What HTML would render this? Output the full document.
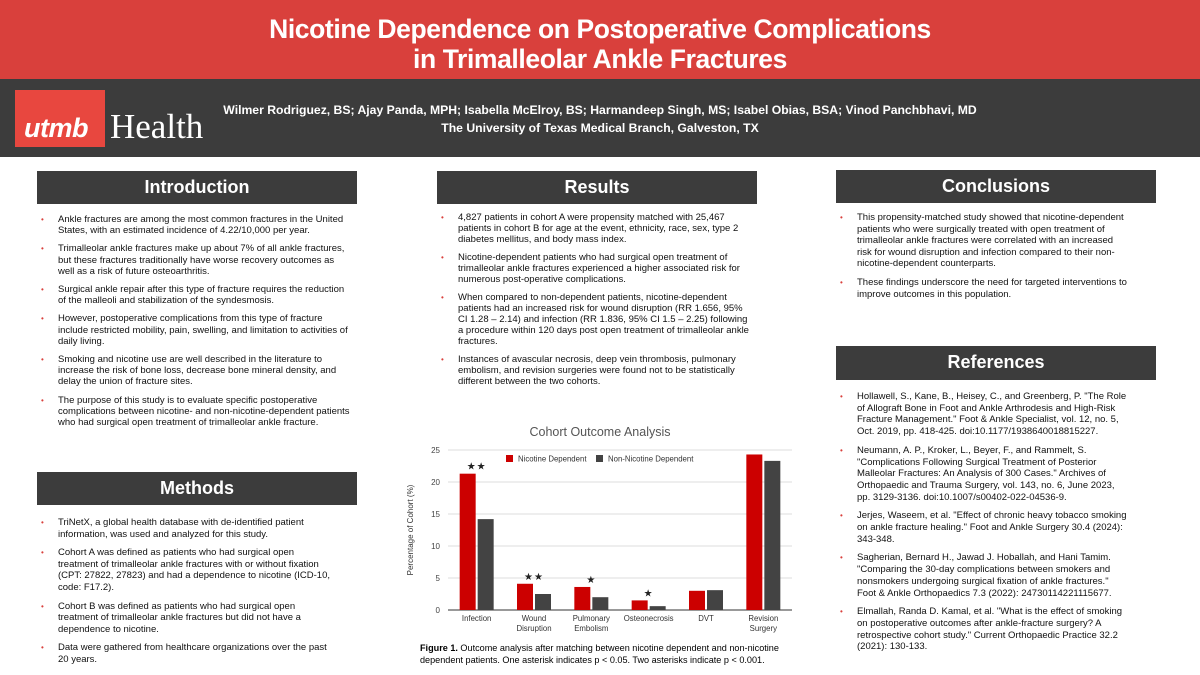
<!DOCTYPE html>
<html><head><meta charset="utf-8">
<style>
*{margin:0;padding:0;box-sizing:border-box}
body{width:1200px;height:675px;position:relative;background:#fff;font-family:"Liberation Sans",Arial,sans-serif;overflow:hidden}
#top{position:absolute;left:0;top:0;width:1200px;height:79px;background:#d9403c}
#top h1{color:#fff;font-size:26.5px;font-weight:bold;text-align:center;line-height:30px;padding-top:14px;letter-spacing:-0.4px}
#band{position:absolute;left:0;top:79px;width:1200px;height:78px;background:#3c3c3c}
#logo{position:absolute;left:15px;top:11px;width:90px;height:57px;background:#e8473f}
#logo b{position:absolute;left:9px;top:23px;color:#fff;font-style:italic;font-size:27px;font-weight:bold;letter-spacing:-0.5px}
#health{position:absolute;left:110px;top:28px;color:#fff;font-family:"Liberation Serif",serif;font-size:35px}
#auth{position:absolute;left:190px;top:22px;width:820px;text-align:center;color:#fff;font-size:12.2px;font-weight:bold;line-height:18px}
.hd{position:absolute;height:33px;width:320px;background:#3c3c3c;color:#fff;font-weight:bold;font-size:18px;text-align:center;line-height:33px}
ul{position:absolute;list-style:none;font-size:9.5px;line-height:11.2px;color:#111}
li{position:relative;padding-left:21px;margin-bottom:7px}
li:before{content:"•";position:absolute;left:4px;top:0;color:#d9403c;font-size:8px}
#chart{position:absolute;left:400px;top:420px}
#cap{position:absolute;left:420px;top:643px;font-size:9.1px;line-height:11.5px;color:#000}
</style></head><body>
<div id="top"><h1>Nicotine Dependence on Postoperative Complications<br>in Trimalleolar Ankle Fractures</h1></div>
<div id="band">
<div id="logo"><b>utmb</b></div>
<div id="health">Health</div>
<div id="auth">Wilmer Rodriguez, BS; Ajay Panda, MPH; Isabella McElroy, BS; Harmandeep Singh, MS; Isabel Obias, BSA; Vinod Panchbhavi, MD<br>The University of Texas Medical Branch, Galveston, TX</div>
</div>

<div class="hd" style="left:37px;top:171px">Introduction</div>
<ul style="left:37px;top:214px;width:340px">
<li>Ankle fractures are among the most common fractures in the United<br>States, with an estimated incidence of 4.22/10,000 per year.</li>
<li>Trimalleolar ankle fractures make up about 7% of all ankle fractures,<br>but these fractures traditionally have worse recovery outcomes as<br>well as a risk of future osteoarthritis.</li>
<li>Surgical ankle repair after this type of fracture requires the reduction<br>of the malleoli and stabilization of the syndesmosis.</li>
<li>However, postoperative complications from this type of fracture<br>include restricted mobility, pain, swelling, and limitation to activities of<br>daily living.</li>
<li>Smoking and nicotine use are well described in the literature to<br>increase the risk of bone loss, decrease bone mineral density, and<br>delay the union of fracture sites.</li>
<li>The purpose of this study is to evaluate specific postoperative<br>complications between nicotine- and non-nicotine-dependent patients<br>who had surgical open treatment of trimalleolar ankle fracture.</li>
</ul>

<div class="hd" style="left:37px;top:472px">Methods</div>
<ul style="left:37px;top:517px;width:340px;line-height:11.6px">
<li>TriNetX, a global health database with de-identified patient<br>information, was used and analyzed for this study.</li>
<li>Cohort A was defined as patients who had surgical open<br>treatment of trimalleolar ankle fractures with or without fixation<br>(CPT: 27822, 27823) and had a dependence to nicotine (ICD-10,<br>code: F17.2).</li>
<li>Cohort B was defined as patients who had surgical open<br>treatment of trimalleolar ankle fractures but did not have a<br>dependence to nicotine.</li>
<li>Data were gathered from healthcare organizations over the past<br>20 years.</li>
</ul>

<div class="hd" style="left:437px;top:171px">Results</div>
<ul style="left:437px;top:212px;width:350px;line-height:11px">
<li>4,827 patients in cohort A were propensity matched with 25,467<br>patients in cohort B for age at the event, ethnicity, race, sex, type 2<br>diabetes mellitus, and body mass index.</li>
<li>Nicotine-dependent patients who had surgical open treatment of<br>trimalleolar ankle fractures experienced a higher associated risk for<br>numerous post-operative complications.</li>
<li>When compared to non-dependent patients, nicotine-dependent<br>patients had an increased risk for wound disruption (RR 1.656, 95%<br>CI 1.28 – 2.14) and infection (RR 1.836, 95% CI 1.5 – 2.25) following<br>a procedure within 120 days post open treatment of trimalleolar ankle<br>fractures.</li>
<li>Instances of avascular necrosis, deep vein thrombosis, pulmonary<br>embolism, and revision surgeries were found not to be statistically<br>different between the two cohorts.</li>
</ul>

<svg id="chart" width="400" height="222"></svg>
<div id="cap"><b>Figure 1.</b> Outcome analysis after matching between nicotine dependent and non-nicotine<br>dependent patients. One asterisk indicates p &lt; 0.05. Two asterisks indicate p &lt; 0.001.</div>

<div class="hd" style="left:836px;top:170px">Conclusions</div>
<ul style="left:836px;top:212px;width:350px;line-height:11.6px">
<li>This propensity-matched study showed that nicotine-dependent<br>patients who were surgically treated with open treatment of<br>trimalleolar ankle fractures were correlated with an increased<br>risk for wound disruption and infection compared to their non-<br>nicotine-dependent counterparts.</li>
<li>These findings underscore the need for targeted interventions to<br>improve outcomes in this population.</li>
</ul>

<div class="hd" style="left:836px;top:346px;height:34px">References</div>
<ul style="left:836px;top:391px;width:350px;line-height:11.7px">
<li>Hollawell, S., Kane, B., Heisey, C., and Greenberg, P. "The Role<br>of Allograft Bone in Foot and Ankle Arthrodesis and High-Risk<br>Fracture Management." Foot &amp; Ankle Specialist, vol. 12, no. 5,<br>Oct. 2019, pp. 418-425. doi:10.1177/1938640018815227.</li>
<li>Neumann, A. P., Kroker, L., Beyer, F., and Rammelt, S.<br>"Complications Following Surgical Treatment of Posterior<br>Malleolar Fractures: An Analysis of 300 Cases." Archives of<br>Orthopaedic and Trauma Surgery, vol. 143, no. 6, June 2023,<br>pp. 3129-3136. doi:10.1007/s00402-022-04536-9.</li>
<li>Jerjes, Waseem, et al. "Effect of chronic heavy tobacco smoking<br>on ankle fracture healing." Foot and Ankle Surgery 30.4 (2024):<br>343-348.</li>
<li>Sagherian, Bernard H., Jawad J. Hoballah, and Hani Tamim.<br>"Comparing the 30-day complications between smokers and<br>nonsmokers undergoing surgical fixation of ankle fractures."<br>Foot &amp; Ankle Orthopaedics 7.3 (2022): 24730114221115677.</li>
<li>Elmallah, Randa D. Kamal, et al. "What is the effect of smoking<br>on postoperative outcomes after ankle-fracture surgery? A<br>retrospective cohort study." Current Orthopaedic Practice 32.2<br>(2021): 130-133.</li>
</ul>

<script>
const categories=[["Infection"],["Wound","Disruption"],["Pulmonary","Embolism"],["Osteonecrosis"],["DVT"],["Revision","Surgery"]];
const nicotine=[21.3,4.1,3.6,1.5,3.0,24.3];
const nonNicotine=[14.2,2.5,2.0,0.6,3.1,23.3];
const stars=["★★","★★","★","★","",""];
const yTicks=[0,5,10,15,20,25];
const NS="http://www.w3.org/2000/svg";
const svg=document.getElementById('chart');
const x0=48,x1=392,yTop=30,yBot=190,yMax=25;
const y=v=>yBot-(v/yMax)*(yBot-yTop);
const band=(x1-x0)/categories.length;
const cx=i=>x0+band*(i+0.5);
function mk(t,a,txt){const e=document.createElementNS(NS,t);for(const k in a)e.setAttribute(k,a[k]);if(txt!==undefined)e.textContent=txt;svg.appendChild(e);return e;}
let e=mk('text',{x:200,y:16,'text-anchor':'middle','font-size':12.5,fill:'#555','font-family':'Liberation Sans'},'Cohort Outcome Analysis');


yTicks.forEach(t=>{
 const g=mk('line',{x1:x0,x2:x1,y1:y(t),y2:y(t),stroke:t===0?'#333':'#ddd','stroke-width':1});
 
 
 const l=mk('text',{x:x0-8,y:y(t)+3,'text-anchor':'end','font-size':8,fill:'#444','font-family':'Liberation Sans'},t);
 
 
});
e=mk('text',{x:13,y:110,'text-anchor':'middle','font-size':8,fill:'#333',transform:'rotate(-90 13 110)','font-family':'Liberation Sans'},'Percentage of Cohort (%)');


const bw=16;
categories.forEach((c,i)=>{
 const a=mk('rect',{x:cx(i)-bw-1,y:y(nicotine[i]),width:bw,height:yBot-y(nicotine[i]),fill:'#cc0000'});
 
 
 const b=mk('rect',{x:cx(i)+1,y:y(nonNicotine[i]),width:bw,height:yBot-y(nonNicotine[i]),fill:'#434343'});
 
 
 c.forEach((w,j)=>{const t=mk('text',{x:cx(i),y:yBot+11+j*10,'text-anchor':'middle','font-size':7.8,fill:'#333','font-family':'Liberation Sans'},w);
  
  });
 if(stars[i]){const s=mk('text',{x:cx(i),y:y(Math.max(nicotine[i],nonNicotine[i]))-4,'text-anchor':'middle','font-size':10,fill:'#222','font-family':'DejaVu Sans','letter-spacing':1},stars[i]);
  
  }
});
[["Nicotine Dependent","#cc0000",106],["Non-Nicotine Dependent","#434343",196]].forEach(([n,col,lx])=>{
 const r=mk('rect',{x:lx,y:35,width:7,height:7,fill:col});
 
 
 const t=mk('text',{x:lx+12,y:41.5,'font-size':7.8,fill:'#333','font-family':'Liberation Sans'},n);
 
 
});
</script>
</body></html>
